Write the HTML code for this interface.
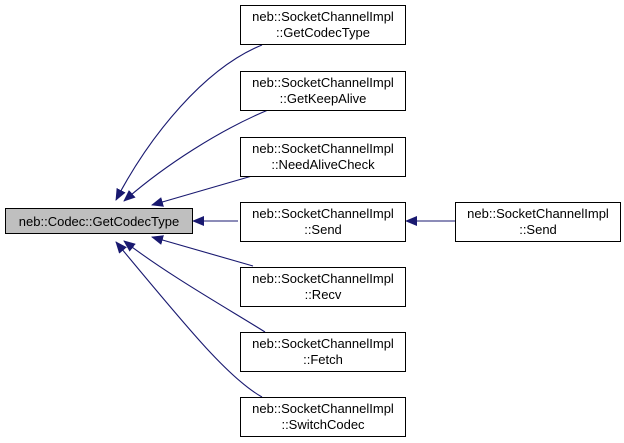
<!DOCTYPE html>
<html><head><meta charset="utf-8"><style>
body{margin:0;background:#fff;width:624px;height:443px;overflow:hidden}
svg{display:block}
text{font-family:"Liberation Sans",sans-serif;font-size:13px;fill:#000}
</style></head><body>
<svg width="624" height="443" viewBox="0 0 624 443" xmlns="http://www.w3.org/2000/svg">
<defs><marker id="a" markerWidth="12" markerHeight="10" refX="11" refY="5" orient="auto" markerUnits="userSpaceOnUse"><path d="M0,0 L12,5 L0,10 Z" fill="#191970"/></marker></defs>
<g fill="none" stroke="#191970" stroke-width="1.1" marker-end="url(#a)">
<path d="M262,45 C205,68 150,135 116,200"/>
<path d="M268,110 C220,130 165,165 124,201"/>
<path d="M252,176 L152,205"/>
<path d="M238,221 L193,221"/>
<path d="M253,266 L152,237"/>
<path d="M265,332 C230,310 168,275 124,241"/>
<path d="M262,397 C228,378 185,325 116,242"/>
<path d="M455,221 L406,221"/>
</g>
<g stroke="#000" stroke-width="1">
<rect x="5.5" y="208.5" width="187" height="25" fill="#bfbfbf"/>
<rect x="240.5" y="5.5" width="165" height="39" fill="#fff"/>
<rect x="240.5" y="71.5" width="165" height="39" fill="#fff"/>
<rect x="240.5" y="137.5" width="165" height="39" fill="#fff"/>
<rect x="240.5" y="202.5" width="165" height="39" fill="#fff"/>
<rect x="240.5" y="267.5" width="165" height="39" fill="#fff"/>
<rect x="240.5" y="332.5" width="165" height="39" fill="#fff"/>
<rect x="240.5" y="397.5" width="165" height="39" fill="#fff"/>
<rect x="455.5" y="202.5" width="165" height="39" fill="#fff"/>
</g>
<g text-anchor="middle">
<text x="99" y="226">neb::Codec::GetCodecType</text>
<text x="323" y="21">neb::SocketChannelImpl</text><text x="323" y="37">::GetCodecType</text>
<text x="323" y="87">neb::SocketChannelImpl</text><text x="323" y="103">::GetKeepAlive</text>
<text x="323" y="153">neb::SocketChannelImpl</text><text x="323" y="169">::NeedAliveCheck</text>
<text x="323" y="218">neb::SocketChannelImpl</text><text x="323" y="234">::Send</text>
<text x="323" y="283">neb::SocketChannelImpl</text><text x="323" y="299">::Recv</text>
<text x="323" y="348">neb::SocketChannelImpl</text><text x="323" y="364">::Fetch</text>
<text x="323" y="413">neb::SocketChannelImpl</text><text x="323" y="429">::SwitchCodec</text>
<text x="538" y="218">neb::SocketChannelImpl</text><text x="538" y="234">::Send</text>
</g>
</svg>
</body></html>
